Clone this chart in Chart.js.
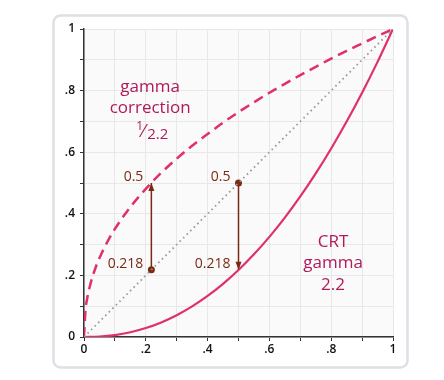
<!DOCTYPE html>
<html><head><meta charset="utf-8">
<script src="https://cdn.jsdelivr.net/npm/chart.js@4/dist/chart.umd.min.js"></script>
<style>html,body{margin:0;padding:0;background:#fff}#wrap{width:444px;height:380px}</style>
</head><body><div id="wrap"><canvas id="c" width="444" height="380"></canvas></div>
<script>
// Data
const gammaCorrX = [0, 0.005, 0.01, 0.02, 0.04, 0.06, 0.08, 0.1, 0.15, 0.2, 0.25, 0.3, 0.35, 0.4, 0.45, 0.5, 0.55, 0.6, 0.65, 0.7, 0.75, 0.8, 0.85, 0.9, 0.95, 1];
const gammaCorrY = [0, 0.090, 0.123, 0.169, 0.232, 0.278, 0.317, 0.351, 0.422, 0.481, 0.533, 0.579, 0.621, 0.659, 0.696, 0.730, 0.762, 0.793, 0.822, 0.850, 0.877, 0.904, 0.929, 0.953, 0.977, 1];
const crtX = [0, 0.05, 0.1, 0.15, 0.2, 0.25, 0.3, 0.35, 0.4, 0.45, 0.5, 0.55, 0.6, 0.65, 0.7, 0.75, 0.8, 0.85, 0.9, 0.95, 1];
const crtY = [0, 0.0014, 0.0063, 0.0154, 0.029, 0.0474, 0.0707, 0.0993, 0.1332, 0.1726, 0.2176, 0.2684, 0.325, 0.3876, 0.4562, 0.5311, 0.6121, 0.6994, 0.7931, 0.8933, 1];
const diagX = [0, 1];
const diagY = [0, 1];
const arrowUpX = [0.218, 0.218];
const arrowUpY = [0.218, 0.5];
const arrowDownX = [0.5, 0.5];
const arrowDownY = [0.5, 0.218];
const tickLabels = {0: '0', 2: '.2', 4: '.4', 6: '.6', 8: '.8', 10: '1'};
const valueLabels = [
  {text: '0.5', x: 0.218, y: 0.5, align: 'right'},
  {text: '0.218', x: 0.218, y: 0.218, align: 'right'},
  {text: '0.5', x: 0.5, y: 0.5, align: 'right'},
  {text: '0.218', x: 0.5, y: 0.218, align: 'right'}
];
const leftTitle = {lines: ['gamma', 'correction'], x: 0.214, y: [0.812, 0.744], frac: {y: 0.666}};
const rightTitle = {lines: ['CRT', 'gamma', '2.2'], x: 0.806, y: [0.308, 0.24, 0.169]};

const pink = '#e0306a';
const brown = '#7a2a12';
const magenta = '#b0195c';

function pts(xs, ys) { return xs.map((x, i) => ({x: x, y: ys[i]})); }

const decor = {
  id: 'decor',
  beforeDraw(chart) {
    const ctx = chart.ctx, a = chart.chartArea;
    ctx.save();
    ctx.fillStyle = '#fff';
    ctx.fillRect(0, 0, chart.width, chart.height);
    // card
    ctx.strokeStyle = '#dde0e4';
    ctx.lineWidth = 2.5;
    ctx.beginPath();
    ctx.roundRect(53.5, 15.5, 354, 352, 7);
    ctx.stroke();
    ctx.fillStyle = '#fafafa';
    ctx.fillRect(a.left, a.top, a.right - a.left, a.bottom - a.top);
    ctx.restore();
  },
  afterDatasetsDraw(chart) {
    const ctx = chart.ctx, xs = chart.scales.x, ys = chart.scales.y;
    ctx.save();
    // arrowheads
    function head(x, y, dir) {
      const px = xs.getPixelForValue(x), py = ys.getPixelForValue(y);
      ctx.fillStyle = brown;
      ctx.beginPath();
      ctx.moveTo(px, py);
      ctx.lineTo(px - 3, py - dir * 8);
      ctx.lineTo(px + 3, py - dir * 8);
      ctx.closePath();
      ctx.fill();
    }
    head(arrowUpX[1], arrowUpY[1], -1);
    head(arrowDownX[1], arrowDownY[1], 1);
    // value labels
    ctx.fillStyle = brown;
    ctx.font = '14px "Open Sans"';
    ctx.textBaseline = 'middle';
    valueLabels.forEach(l => {
      ctx.textAlign = l.align;
      ctx.fillText(l.text, xs.getPixelForValue(l.x) - 8, ys.getPixelForValue(l.y) - 6);
    });
    // titles
    ctx.fillStyle = magenta;
    ctx.textAlign = 'center';
    ctx.font = '17px "Open Sans"';
    leftTitle.lines.forEach((t, i) => ctx.fillText(t, xs.getPixelForValue(leftTitle.x), ys.getPixelForValue(leftTitle.y[i])));
    rightTitle.lines.forEach((t, i) => ctx.fillText(t, xs.getPixelForValue(rightTitle.x), ys.getPixelForValue(rightTitle.y[i])));
    // fraction 1/2.2
    const fx = xs.getPixelForValue(leftTitle.x), fy = ys.getPixelForValue(leftTitle.frac.y);
    ctx.textAlign = 'left';
    ctx.font = '12px "Open Sans"';
    ctx.fillText('1', fx - 14, fy - 5);
    ctx.font = '18px "Open Sans"';
    ctx.fillText('\u2044', fx - 8, fy);
    ctx.font = '15px "Open Sans"';
    ctx.fillText('2.2', fx - 3, fy + 3);
    ctx.restore();
  }
};

new Chart(document.getElementById('c'), {
  type: 'line',
  data: {
    datasets: [
      {data: pts(diagX, diagY), borderColor: '#9a9a9a', borderWidth: 1.8, borderDash: [1.6, 3.4], pointRadius: 0, borderCapStyle: 'butt'},
      {data: pts(gammaCorrX, gammaCorrY), borderColor: pink, borderWidth: 2.5, borderDash: [10, 6], pointRadius: 0, cubicInterpolationMode: 'monotone'},
      {data: pts(crtX, crtY), borderColor: pink, borderWidth: 2.2, pointRadius: 0, cubicInterpolationMode: 'monotone'},
      {data: pts(arrowUpX, arrowUpY), borderColor: brown, borderWidth: 1.5, pointRadius: [3.5, 0], pointBackgroundColor: brown, pointBorderWidth: 0},
      {data: pts(arrowDownX, arrowDownY), borderColor: brown, borderWidth: 1.5, pointRadius: [3.5, 0], pointBackgroundColor: brown, pointBorderWidth: 0}
    ]
  },
  options: {
    responsive: false,
    animation: false,
    parsing: false,
    layout: {padding: {left: 0, top: 29, right: 51, bottom: 0}},
    plugins: {legend: {display: false}, tooltip: {enabled: false}},
    scales: {
      x: {
        type: 'linear', min: 0, max: 1,
        afterFit: s => { s.height = 43; },
        border: {color: '#333', width: 1.5},
        grid: {color: '#e8e8e8', tickColor: '#333', tickLength: 4, drawTicks: true},
        ticks: {stepSize: 0.1, autoSkip: false, maxRotation: 0, padding: 1, color: '#111', font: {family: '"Open Sans"', size: 12, weight: '600'},
          callback: (v) => { const k = Math.round(v * 10); return tickLabels[k] !== undefined ? tickLabels[k] : ''; }}
      },
      y: {
        type: 'linear', min: 0, max: 1,
        afterFit: s => { s.width = 84; },
        border: {color: '#333', width: 1.5},
        grid: {color: '#e8e8e8', tickColor: '#333', tickLength: 4},
        ticks: {stepSize: 0.1, autoSkip: false, padding: 5, color: '#111', font: {family: '"Open Sans"', size: 12, weight: '600'},
          callback: (v) => { const k = Math.round(v * 10); return tickLabels[k] !== undefined ? tickLabels[k] : ''; }}
      }
    }
  },
  plugins: [decor]
});
</script></body></html>
